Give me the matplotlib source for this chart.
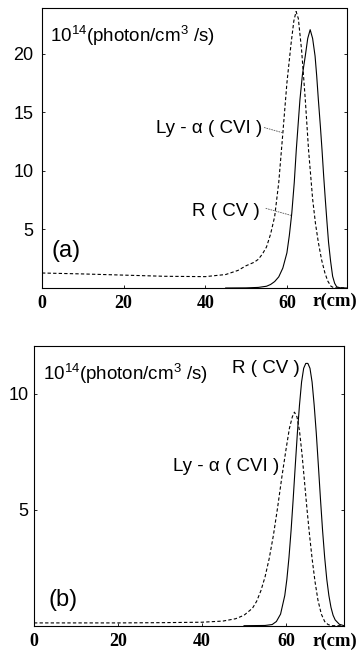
import matplotlib
matplotlib.use("Agg")
import matplotlib.pyplot as plt

plt.rcParams['font.family'] = ['Liberation Sans', 'DejaVu Sans']
plt.rcParams['mathtext.fontset'] = 'custom'
plt.rcParams['mathtext.rm'] = 'Liberation Sans'
plt.rcParams['mathtext.it'] = 'Liberation Sans:italic'
plt.rcParams['mathtext.bf'] = 'Liberation Sans:bold'

# ---------------- data ----------------
# panel (a)
a_ly_r = [0, 10, 20, 30, 40, 45, 48, 50, 51, 52, 53, 54, 55, 56, 57, 58, 59, 60, 61,
          61.7, 62.25, 62.8, 63.6, 64.5, 65.3, 66.3, 67.0, 67.7, 68.5, 69.3, 70.0,
          70.8, 71.5, 74.6]
a_ly_v = [1.28, 1.2, 1.1, 1.0, 0.97, 1.15, 1.5, 1.9, 2.05, 2.2, 2.45, 2.9, 3.5, 4.6,
          6.1, 9.0, 13.2, 17.5, 20.8, 22.8, 23.6, 23.0, 20.3, 16.1, 11.8, 7.6, 5.5,
          3.9, 2.4, 1.3, 0.6, 0.15, 0.02, 0.0]

a_r_r = [45, 50, 53, 55, 56, 57, 58, 59, 60, 60.6, 61.2, 61.8, 62.3, 62.8, 63.2,
         63.8, 64.5, 65.1, 65.7, 66.3, 66.9, 67.3, 67.7, 68.2, 68.6, 69.0, 69.4,
         69.8, 70.2, 70.7, 71.2, 71.7, 72.2, 73, 74.6]
a_r_v = [0, 0.01, 0.05, 0.15, 0.3, 0.55, 0.95, 1.7, 3.0, 4.5, 6.4, 9.0, 11.8, 14.2,
         16.1, 18.2, 19.8, 21.3, 22.05, 21.3, 19.8, 18.1, 16.1, 13.8, 11.8, 9.6,
         7.6, 5.7, 3.9, 2.3, 1.0, 0.4, 0.1, 0.02, 0]

# panel (b)
b_ly_r = [0, 10, 20, 30, 40, 45, 48, 50, 52, 53, 54, 55, 56, 57, 58, 59, 60, 60.8,
          61.5, 62.0, 62.6, 63.2, 63.8, 64.4, 65.0, 65.6, 66.2, 66.9, 67.6, 68.4,
          69.2, 70.0, 70.8, 73.8]
b_ly_v = [0.12, 0.12, 0.12, 0.13, 0.15, 0.2, 0.3, 0.45, 0.75, 1.05, 1.5, 2.1, 2.9,
          3.9, 5.1, 6.4, 7.6, 8.5, 9.0, 9.2, 9.0, 8.4, 7.4, 6.2, 5.0, 3.9, 2.9, 1.9,
          1.1, 0.5, 0.18, 0.05, 0.0, 0.0]

b_r_r = [50, 55, 56.7, 57.7, 58.7, 59.7, 60.2, 60.7, 61.2, 61.7, 62.2, 62.7, 63.2,
         63.7, 64.2, 64.7, 65.2, 65.7, 66.2, 66.7, 67.2, 67.7, 68.2, 68.7, 69.2,
         69.7, 70.2, 70.7, 71.2, 71.7, 72.7, 73.8]
b_r_v = [0, 0.01, 0.05, 0.18, 0.5, 1.3, 2.0, 2.94, 4.1, 5.45, 6.9, 8.3, 9.5, 10.5,
         11.09, 11.3, 11.3, 11.09, 10.5, 9.5, 8.3, 6.9, 5.45, 4.1, 2.94, 2.0, 1.3,
         0.79, 0.45, 0.25, 0.06, 0]

x_ticks = [0, 20, 40, 60]
a_yticks = [5, 10, 15, 20]
b_yticks = [5, 10]
unit_label = r'$\mathregular{10^{14}}$(photon/cm$\mathregular{^{3}}$ /s)'
ly_label = 'Ly - α ( CVI )'
r_label = 'R ( CV )'
xunit_label = 'r(cm)'

# ---------------- figure ----------------
W, H = 360, 650
fig = plt.figure(figsize=(W / 100, H / 100), dpi=100)
axA = fig.add_axes([42 / W, 1 - 288 / H, (346.5 - 42) / W, (288 - 8) / H])
axB = fig.add_axes([34 / W, 1 - 625.7 / H, (344 - 34) / W, (625.7 - 346) / H])

dash = (0, (3.0, 2.0))
lw = 0.8

def style(ax, xmax, ymax, yticks, ypad):
    ax.set_xlim(0, xmax)
    ax.set_ylim(0, ymax)
    ax.set_xticks(x_ticks)
    ax.set_yticks(yticks)
    ax.tick_params(axis='both', direction='in', length=2.5, width=0.6,
                   right=True, top=False, colors='black')
    ax.tick_params(axis='y', labelsize=13, pad=ypad)
    ax.tick_params(axis='x', pad=5)
    for lab in ax.get_xticklabels():
        lab.set_fontfamily('Liberation Serif')
        lab.set_fontweight('bold')
        lab.set_fontsize(13)
    for s in ax.spines.values():
        s.set_linewidth(0.8)

# panel (a)
axA.plot(a_ly_r, a_ly_v, color='black', lw=lw, linestyle=dash)
axA.plot(a_r_r, a_r_v, color='black', lw=lw)
style(axA, 74.6, 23.9, a_yticks, 6)
axA.text(2.0, 21.0, unit_label, fontsize=13.5, ha='left', va='baseline')
axA.text(2.4, 3.2, '(a)', fontsize=17, ha='left', va='center')
axA.text(54.0, 13.6, ly_label, fontsize=13.5, ha='right', va='center')
axA.text(53.4, 6.5, r_label, fontsize=13.5, ha='right', va='center')
axA.plot([54.4, 59.0], [13.7, 13.25], color='0.35', lw=0.6, linestyle=(0, (2, 1)))
axA.plot([54.8, 61.0], [6.8, 6.2], color='0.35', lw=0.6, linestyle=(0, (2, 1)))

# panel (b)
axB.plot(b_ly_r, b_ly_v, color='black', lw=lw, linestyle=dash)
axB.plot(b_r_r, b_r_v, color='black', lw=lw)
style(axB, 73.8, 12.05, b_yticks, 4)
axB.text(2.1, 10.6, unit_label, fontsize=13.5, ha='left', va='baseline')
axB.text(3.4, 1.1, '(b)', fontsize=17, ha='left', va='center')
axB.text(63.3, 11.1, r_label, fontsize=13.5, ha='right', va='center')
axB.text(58.4, 6.85, ly_label, fontsize=13.5, ha='right', va='center')

fig.text(335 / W, 1 - 301 / H, xunit_label, fontfamily='Liberation Serif',
         fontweight='bold', fontsize=13.5, ha='center', va='center')
fig.text(335 / W, 1 - 641 / H, xunit_label, fontfamily='Liberation Serif',
         fontweight='bold', fontsize=13.5, ha='center', va='center')

fig.savefig('out.png', dpi=100, facecolor='white')
